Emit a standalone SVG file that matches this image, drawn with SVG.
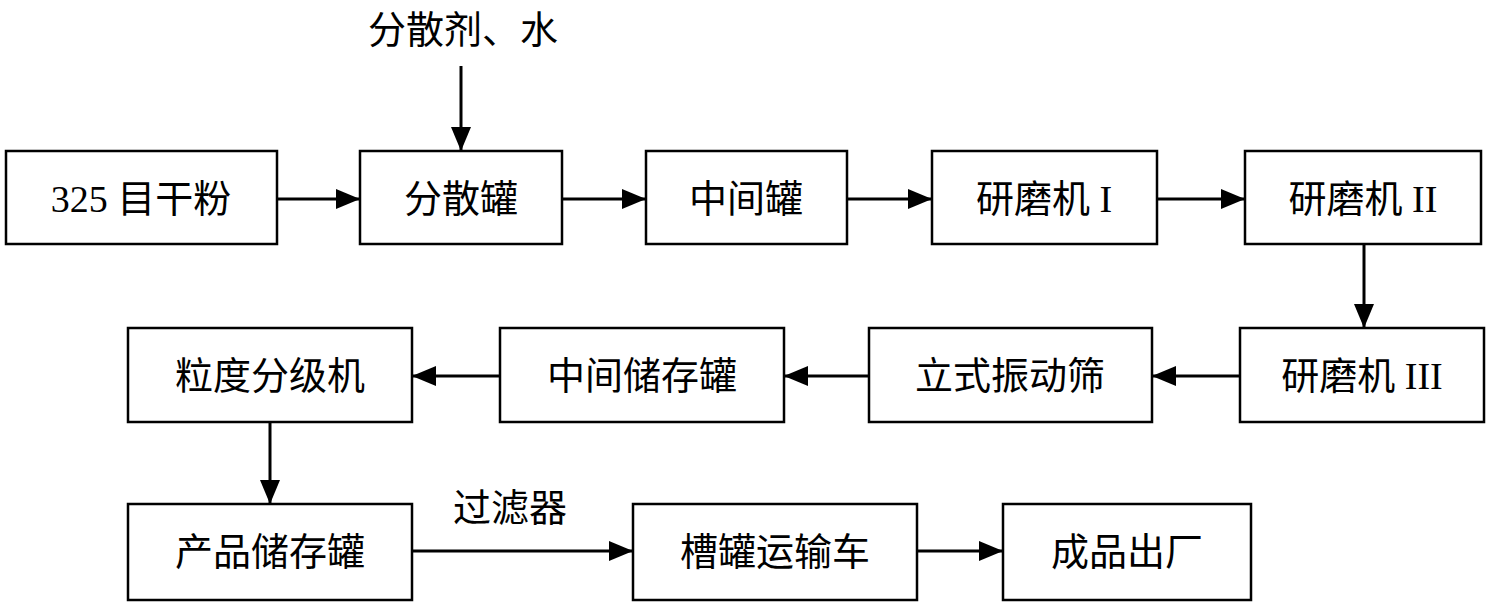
<svg xmlns="http://www.w3.org/2000/svg" width="1492" height="605" viewBox="0 0 1492 605">
<style>
.b{fill:#fff;stroke:#000;stroke-width:2.5}
.t{font-family:"Liberation Serif","Noto Sans CJK SC",serif;font-size:38px;text-anchor:middle;dominant-baseline:central;fill:#000}
.c line{stroke:#000;stroke-width:3}
</style>
<defs>
<marker id="h" viewBox="0 0 24 20" refX="24" refY="10" markerWidth="24" markerHeight="20" orient="auto" markerUnits="userSpaceOnUse"><path d="M0,0L24,10L0,20z" fill="#000"/></marker></defs>
<rect width="1492" height="605" fill="#fff"/>
<g id="n1"><rect class="b" x="6" y="151" width="271" height="93"/><text class="t" x="141" y="199">325 目干粉</text></g>
<g id="n2"><rect class="b" x="360" y="151" width="202" height="93"/><text class="t" x="461" y="199">分散罐</text></g>
<g id="n3"><rect class="b" x="646" y="151" width="201" height="93"/><text class="t" x="746" y="199">中间罐</text></g>
<g id="n4"><rect class="b" x="932" y="151" width="225" height="93"/><text class="t" x="1044" y="199">研磨机 I</text></g>
<g id="n5"><rect class="b" x="1245" y="151" width="236" height="93"/><text class="t" x="1363" y="199">研磨机 II</text></g>
<g id="n6"><rect class="b" x="128" y="328" width="284" height="94"/><text class="t" x="270" y="376">粒度分级机</text></g>
<g id="n7"><rect class="b" x="500" y="328" width="284" height="94"/><text class="t" x="642" y="376">中间储存罐</text></g>
<g id="n8"><rect class="b" x="869" y="328" width="283" height="94"/><text class="t" x="1010" y="376">立式振动筛</text></g>
<g id="n9"><rect class="b" x="1240" y="328" width="244" height="94"/><text class="t" x="1362" y="376">研磨机 III</text></g>
<g id="n10"><rect class="b" x="128" y="504" width="284" height="96"/><text class="t" x="270" y="552">产品储存罐</text></g>
<g id="n11"><rect class="b" x="633" y="504" width="284" height="96"/><text class="t" x="775" y="552">槽罐运输车</text></g>
<g id="n12"><rect class="b" x="1003" y="504" width="248" height="96"/><text class="t" x="1127" y="552">成品出厂</text></g>
<text class="t" x="463" y="30">分散剂、水</text>
<text class="t" x="510" y="508">过滤器</text>
<g class="c">
<line x1="461" y1="66" x2="461" y2="151" marker-end="url(#h)"/>
<line x1="277" y1="199" x2="360" y2="199" marker-end="url(#h)"/>
<line x1="562" y1="199" x2="646" y2="199" marker-end="url(#h)"/>
<line x1="847" y1="199" x2="932" y2="199" marker-end="url(#h)"/>
<line x1="1157" y1="199" x2="1245" y2="199" marker-end="url(#h)"/>
<line x1="1364" y1="244" x2="1364" y2="328" marker-end="url(#h)"/>
<line x1="1240" y1="376" x2="1152" y2="376" marker-end="url(#h)"/>
<line x1="869" y1="376" x2="784" y2="376" marker-end="url(#h)"/>
<line x1="500" y1="376" x2="412" y2="376" marker-end="url(#h)"/>
<line x1="270" y1="422" x2="270" y2="504" marker-end="url(#h)"/>
<line x1="412" y1="551" x2="633" y2="551" marker-end="url(#h)"/>
<line x1="917" y1="551" x2="1003" y2="551" marker-end="url(#h)"/>
</g>
</svg>
